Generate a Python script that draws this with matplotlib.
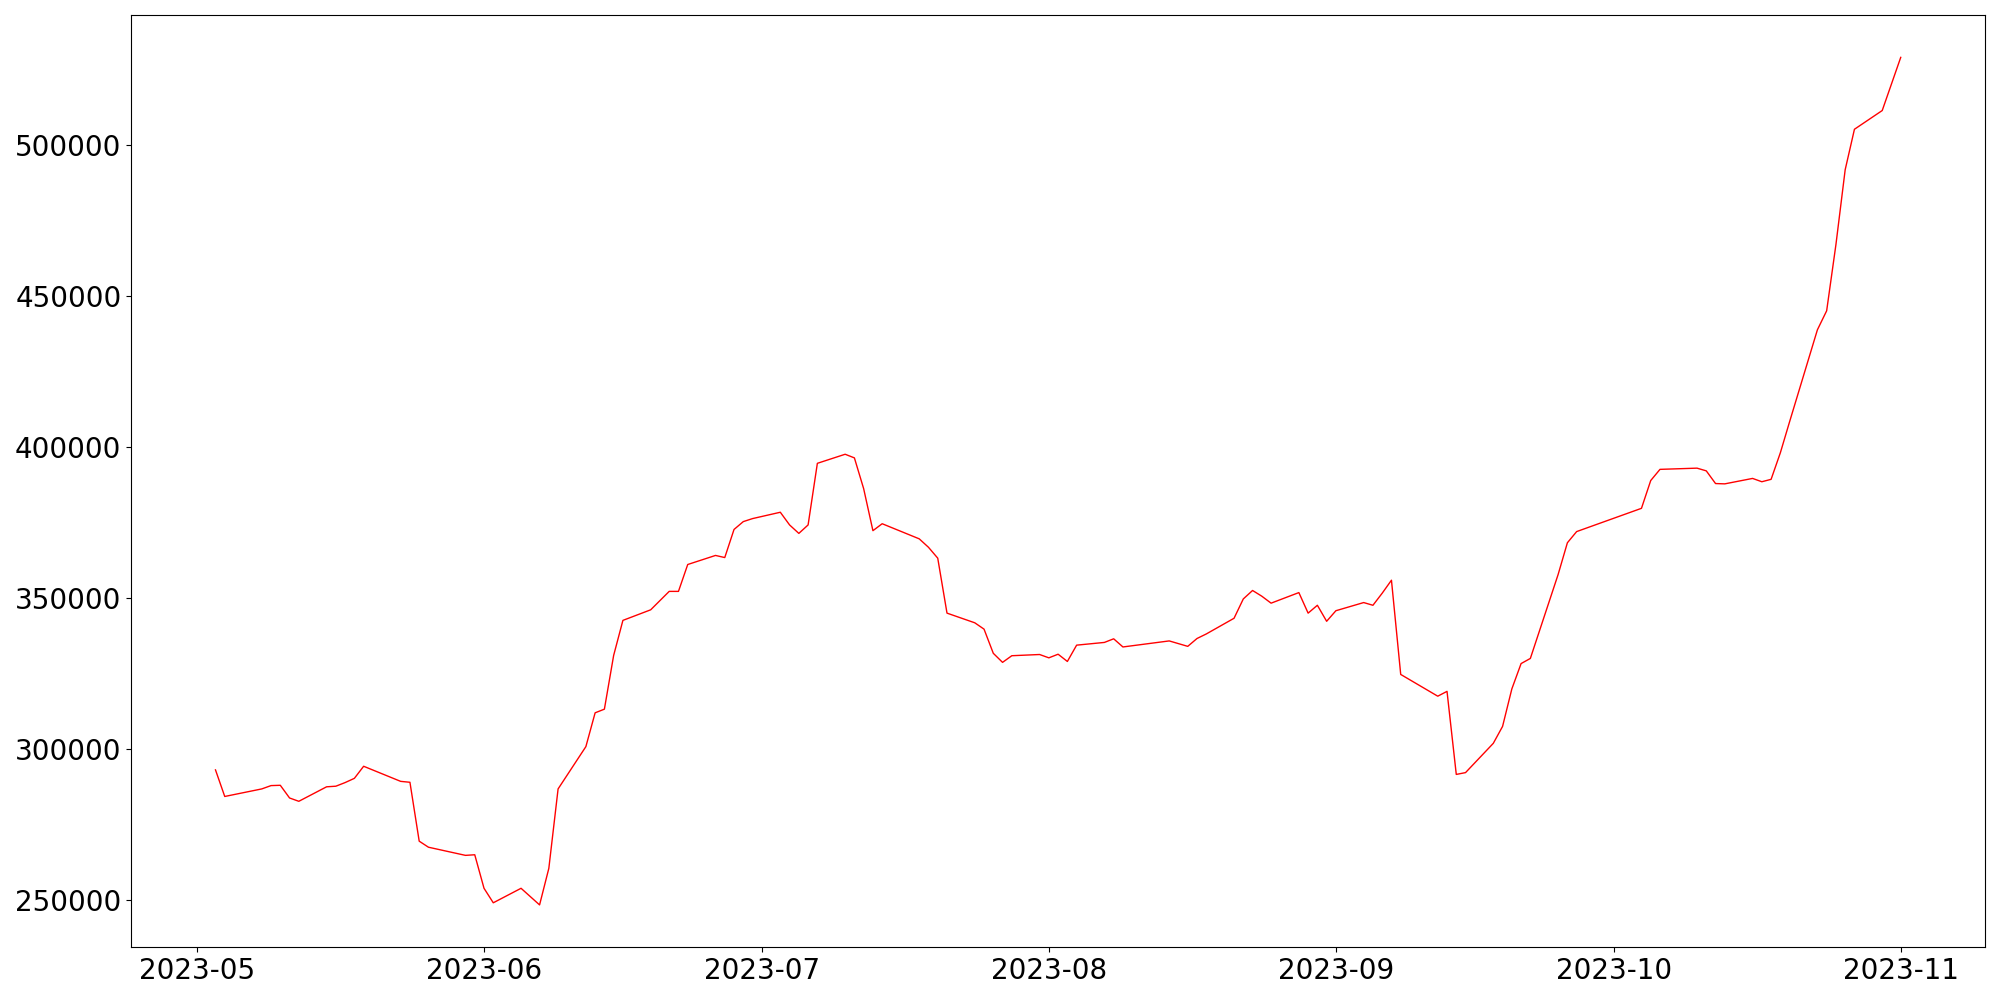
import matplotlib
matplotlib.use("Agg")
import matplotlib.pyplot as plt
import pandas as pd

# closing values (trading days only)
dates = [
    "2023-05-03", "2023-05-04", "2023-05-08", "2023-05-09", "2023-05-10",
    "2023-05-11", "2023-05-12", "2023-05-15", "2023-05-16", "2023-05-17",
    "2023-05-18", "2023-05-19", "2023-05-23", "2023-05-24", "2023-05-25",
    "2023-05-26", "2023-05-30", "2023-05-31", "2023-06-01", "2023-06-02",
    "2023-06-05", "2023-06-07", "2023-06-08", "2023-06-09", "2023-06-12",
    "2023-06-13", "2023-06-14", "2023-06-15", "2023-06-16", "2023-06-19",
    "2023-06-21", "2023-06-22", "2023-06-23", "2023-06-26", "2023-06-27",
    "2023-06-28", "2023-06-29", "2023-06-30", "2023-07-03", "2023-07-04",
    "2023-07-05", "2023-07-06", "2023-07-07", "2023-07-10", "2023-07-11",
    "2023-07-12", "2023-07-13", "2023-07-14", "2023-07-18", "2023-07-19",
    "2023-07-20", "2023-07-21", "2023-07-24", "2023-07-25", "2023-07-26",
    "2023-07-27", "2023-07-28", "2023-07-31", "2023-08-01", "2023-08-02",
    "2023-08-03", "2023-08-04", "2023-08-07", "2023-08-08", "2023-08-09",
    "2023-08-14", "2023-08-16", "2023-08-17", "2023-08-18", "2023-08-21",
    "2023-08-22", "2023-08-23", "2023-08-24", "2023-08-25", "2023-08-28",
    "2023-08-29", "2023-08-30", "2023-08-31", "2023-09-01", "2023-09-04",
    "2023-09-05", "2023-09-06", "2023-09-07", "2023-09-08", "2023-09-12",
    "2023-09-13", "2023-09-14", "2023-09-15", "2023-09-18", "2023-09-19",
    "2023-09-20", "2023-09-21", "2023-09-22", "2023-09-25", "2023-09-26",
    "2023-09-27", "2023-10-04", "2023-10-05", "2023-10-06", "2023-10-10",
    "2023-10-11", "2023-10-12", "2023-10-13", "2023-10-16", "2023-10-17",
    "2023-10-18", "2023-10-19", "2023-10-20", "2023-10-23", "2023-10-24",
    "2023-10-25", "2023-10-26", "2023-10-27", "2023-10-30", "2023-11-01",
]
prices = [
    293000, 284200, 286700, 287800, 287900,
    283700, 282600, 287400, 287600, 288800,
    290200, 294200, 289200, 288900, 269400,
    267400, 264700, 264900, 253800, 249000,
    253800, 248300, 260400, 286700, 300700,
    311900, 313100, 330900, 342500, 346000,
    352100, 352100, 361000, 364000, 363300,
    372600, 375200, 376200, 378300, 374100,
    371300, 374100, 394500, 397500, 396300,
    386100, 372200, 374500, 369500, 366700,
    363100, 344900, 341700, 339600, 331600,
    328600, 330800, 331200, 330100, 331300,
    328900, 334300, 335200, 336400, 333700,
    335700, 333900, 336500, 338000, 343200,
    349600, 352400, 350500, 348200, 351700,
    344900, 347500, 342200, 345700, 348400,
    347500, 351500, 355800, 324600, 317400,
    319000, 291500, 292100, 301800, 307400,
    319800, 328200, 329900, 357700, 368200,
    371900, 379600, 388800, 392500, 392900,
    392000, 387800, 387700, 389500, 388400,
    389200, 398000, 408300, 438700, 445000,
    466900, 491700, 505100, 511300, 528900,
]

x = pd.to_datetime(dates)

fig, ax = plt.subplots(figsize=(20, 10))
ax.plot(x, prices, color="red", linewidth=1)
ax.tick_params(labelsize=20)
plt.tight_layout()
plt.savefig("out.png", dpi=100)
